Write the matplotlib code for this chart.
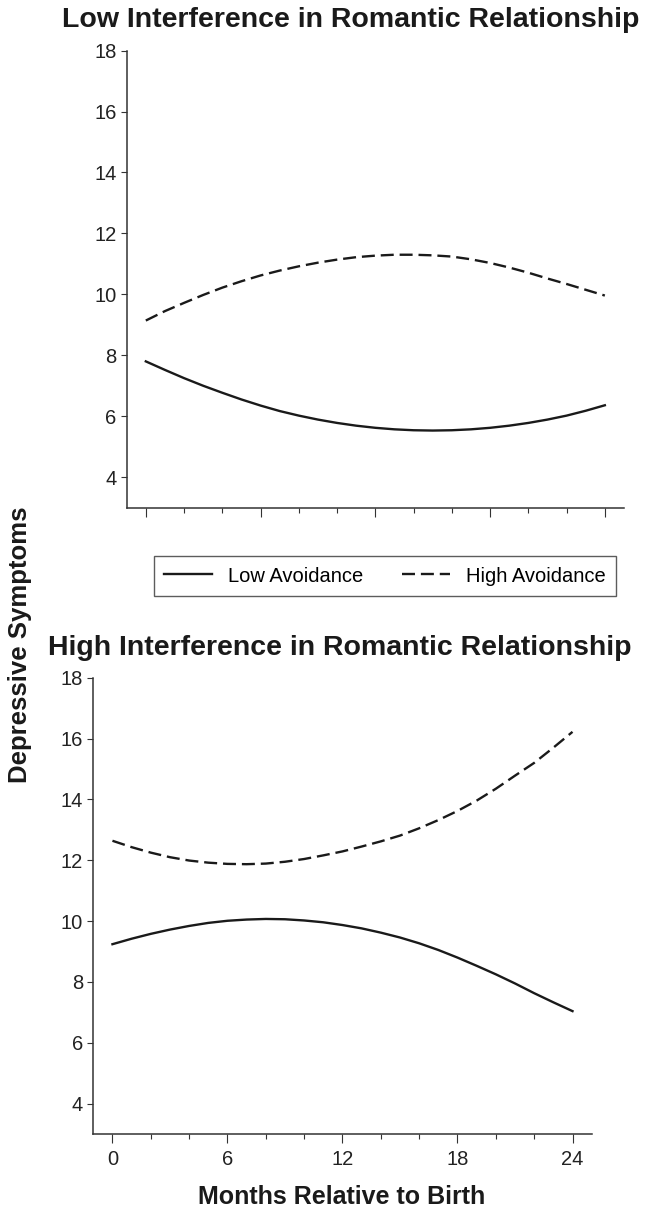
import matplotlib.pyplot as plt
from matplotlib.ticker import MultipleLocator

plt.rcParams['font.family'] = ['Liberation Sans', 'DejaVu Sans']

months = [0, 1, 2, 3, 4, 5, 6, 7, 8, 9, 10, 11, 12,
          13, 14, 15, 16, 17, 18, 19, 20, 21, 22, 23, 24]

# low interference panel
low_int_low_av = [7.80, 7.52, 7.25, 7.00, 6.77, 6.55, 6.35, 6.17, 6.02, 5.89, 5.78, 5.69, 5.62,
                  5.57, 5.54, 5.53, 5.54, 5.57, 5.62, 5.69, 5.78, 5.89, 6.02, 6.18, 6.36]
low_int_high_av = [9.14, 9.45, 9.72, 9.98, 10.22, 10.43, 10.62, 10.78, 10.92, 11.04, 11.14, 11.22, 11.27,
                   11.30, 11.30, 11.28, 11.24, 11.15, 11.03, 10.88, 10.71, 10.52, 10.34, 10.15, 9.96]

# high interference panel
high_int_low_av = [9.24, 9.42, 9.58, 9.72, 9.84, 9.94, 10.01, 10.05, 10.07, 10.06, 10.02, 9.96, 9.87,
                   9.76, 9.62, 9.46, 9.27, 9.05, 8.80, 8.53, 8.25, 7.95, 7.63, 7.33, 7.04]
high_int_high_av = [12.64, 12.43, 12.25, 12.10, 11.99, 11.92, 11.88, 11.87, 11.89, 11.95, 12.04, 12.16, 12.29,
                    12.45, 12.62, 12.81, 13.05, 13.32, 13.62, 13.96, 14.35, 14.78, 15.20, 15.70, 16.22]

y_ticks = [4, 6, 8, 10, 12, 14, 16, 18]
x_ticks = [0, 6, 12, 18, 24]

line_col = '#1a1a1a'
axis_col = '#333333'

fig = plt.figure(figsize=(6.46, 12.13), dpi=100)
ax1 = fig.add_axes([0.1961, 0.5815, 0.7698, 0.3768])
ax2 = fig.add_axes([0.1444, 0.0651, 0.7715, 0.3762])


def style_axes(ax, show_xlabels):
    ax.set_xlim(-1, 25)
    ax.set_ylim(3, 18)
    ax.set_yticks(y_ticks)
    ax.set_xticks(x_ticks)
    ax.xaxis.set_minor_locator(MultipleLocator(2))
    for s in ['top', 'right']:
        ax.spines[s].set_visible(False)
    for s in ['left', 'bottom']:
        ax.spines[s].set_linewidth(1.1)
        ax.spines[s].set_color(axis_col)
    ax.tick_params(axis='y', length=4.3, width=0.8, color=axis_col, labelsize=14.5, pad=3, labelcolor='#222222')
    ax.tick_params(axis='x', which='major', length=6.5, width=0.8, color=axis_col, labelsize=14.5, pad=5,
                   labelcolor='#222222', labelbottom=show_xlabels)
    ax.tick_params(axis='x', which='minor', length=3.6, width=0.8, color=axis_col)


ax1.plot(months, low_int_low_av, color=line_col, lw=1.7, label='Low Avoidance')
ax1.plot(months, low_int_high_av, color=line_col, lw=1.7, dashes=(5.5, 2.5), label='High Avoidance')
style_axes(ax1, False)

ax2.plot(months, high_int_low_av, color=line_col, lw=1.7)
ax2.plot(months, high_int_high_av, color=line_col, lw=1.7, dashes=(5.5, 2.5))
style_axes(ax2, True)

fig.text(351 / 646, 1 - 20 / 1213, 'Low Interference in Romantic Relationship',
         ha='center', va='center', fontsize=20.5, fontweight='bold', color='#1a1a1a')
fig.text(340 / 646, 1 - 648 / 1213, 'High Interference in Romantic Relationship',
         ha='center', va='center', fontsize=20.5, fontweight='bold', color='#1a1a1a')
fig.text(342 / 646, 1 - 1197 / 1213, 'Months Relative to Birth',
         ha='center', va='center', fontsize=18, fontweight='bold', color='#1a1a1a')
fig.text(20 / 646, 1 - 645 / 1213, 'Depressive Symptoms', rotation=90,
         ha='center', va='center', fontsize=18.5, fontweight='bold', color='#1a1a1a')

leg = fig.legend(loc='center', bbox_to_anchor=(385 / 646, 1 - 576 / 1213), ncol=2, fontsize=14.5,
                 frameon=True, fancybox=False, edgecolor='#333333', handlelength=2.4,
                 columnspacing=1.9, borderpad=0.5, borderaxespad=0)
leg.get_frame().set_linewidth(1.0)

fig.savefig('out.png', dpi=100)
